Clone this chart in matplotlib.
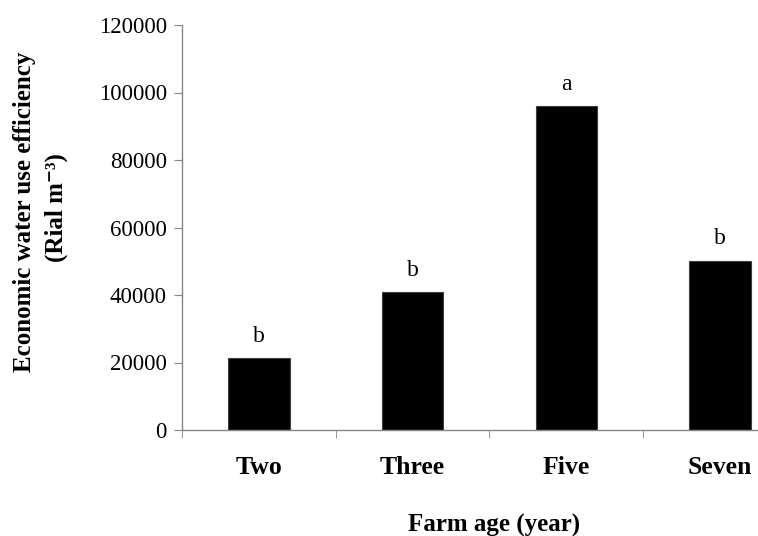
import matplotlib
matplotlib.use("Agg")
import matplotlib.pyplot as plt

categories = ["Two", "Three", "Five", "Seven"]
values = [21400, 40800, 95900, 50200]
letters = ["b", "b", "a", "b"]
yticks = [0, 20000, 40000, 60000, 80000, 100000, 120000]

plt.rcParams['font.family'] = ['Liberation Serif', 'DejaVu Serif']

fig = plt.figure(figsize=(7.58, 5.36), dpi=100)
ax = fig.add_axes([182/758, 1-430/536, (797-182)/758, (430-25)/536])

x = list(range(len(categories)))
bars = ax.bar(x, values, width=0.4, color='black', edgecolor='#404040', linewidth=0.8)
for xi, v, l in zip(x, values, letters):
    ax.annotate(l, (xi, v), xytext=(0, 8), textcoords='offset points',
                ha='center', va='bottom', fontsize=17)

ax.set_xlim(-0.5, len(categories) - 0.5)
ax.set_ylim(0, 120000)
ax.set_yticks(yticks)
ax.set_yticklabels([str(t) for t in yticks], fontsize=16.5)
ax.set_xticks(x)
ax.set_xticklabels(categories, fontsize=18.5, fontweight='bold')
ax.set_xticks([i - 0.5 for i in range(len(categories) + 1)], minor=True)
ax.tick_params(axis='x', which='major', length=0, pad=19)
ax.tick_params(axis='x', which='minor', length=6, direction='out', color='#868686')
ax.tick_params(axis='y', length=6, direction='out', color='#868686', pad=5)

for s in ['top', 'right']:
    ax.spines[s].set_visible(False)
for s in ['left', 'bottom']:
    ax.spines[s].set_color('#868686')
    ax.spines[s].set_linewidth(1.0)

fig.text(25/758, 1-212/536, "Economic water use efficiency", rotation=90,
         ha='center', va='center', fontsize=18, fontweight='bold')
fig.text(56/758, 1-208/536, "(Rial m\u207b\u00b3)", rotation=90,
         ha='center', va='center', fontsize=18, fontweight='bold')
fig.text(494/758, 1-532/536, "Farm age (year)", ha='center', va='baseline',
         fontsize=18, fontweight='bold')

fig.savefig("out.png", dpi=100)
